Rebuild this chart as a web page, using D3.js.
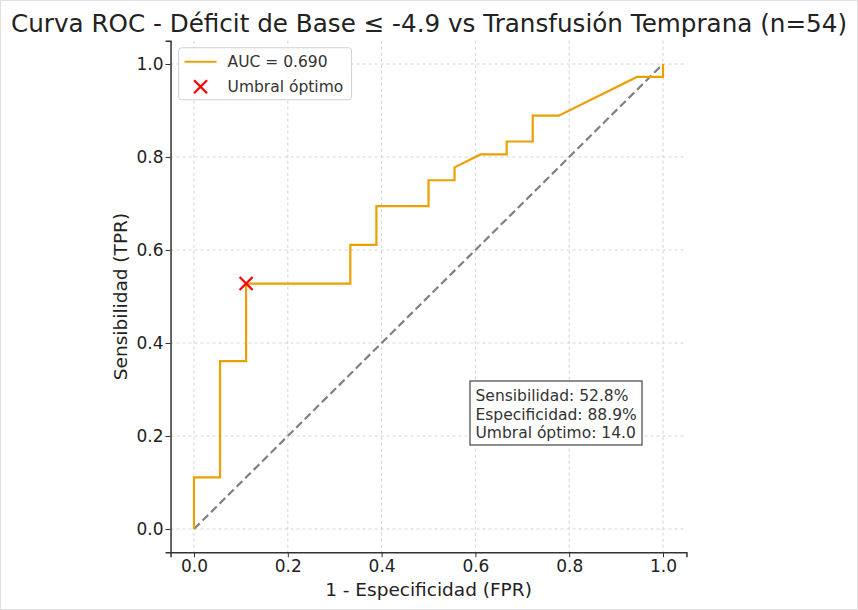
<!DOCTYPE html>
<html>
<head>
<meta charset="utf-8">
<script src="https://cdn.jsdelivr.net/npm/d3@7"></script>
<style>
  body { margin: 0; background: #fff; }
  svg { font-family: "DejaVu Sans", sans-serif; display: block; }
</style>
</head>
<body>
<div id="chart"></div>
<script>
// ROC points (18 negatives, 36 positives)
const fpr = [0, 0, 1/18, 1/18, 2/18, 2/18, 6/18, 6/18, 7/18, 7/18, 9/18, 9/18, 10/18, 10/18, 11/18, 12/18, 12/18, 13/18, 13/18, 14/18, 17/18, 1, 1];
const tpr = [0, 4/36, 4/36, 13/36, 13/36, 19/36, 19/36, 22/36, 22/36, 25/36, 25/36, 27/36, 27/36, 28/36, 29/36, 29/36, 30/36, 30/36, 32/36, 32/36, 35/36, 35/36, 1];
const optimal = { fpr: 2/18, tpr: 19/36 };
const ticks = [0, 0.2, 0.4, 0.6, 0.8, 1.0];
const statLines = ["Sensibilidad: 52.8%", "Especificidad: 88.9%", "Umbral óptimo: 14.0"];
const aucLabel = "AUC = 0.690";

const W = 858, H = 610;
const margin = { top: 40.75, right: 171.55, bottom: 57.75, left: 170.55 };
const width = W - margin.left - margin.right,
      height = H - margin.top - margin.bottom;

const svgRoot = d3.select("#chart").append("svg")
    .attr("width", W)
    .attr("height", H);

svgRoot.append("rect")
    .attr("x", 0.5).attr("y", 0.5)
    .attr("width", W - 1).attr("height", H - 1)
    .attr("fill", "#fff").attr("stroke", "#e0e0e0");

const svg = svgRoot.append("g")
    .attr("transform", `translate(${margin.left},${margin.top})`);

const x = d3.scaleLinear().domain([-0.05, 1.05]).range([0, width]);
const y = d3.scaleLinear().domain([-0.05, 1.05]).range([height, 0]);

// grid
svg.append("g").selectAll("line.gx")
    .data(ticks).enter().append("line")
    .attr("x1", d => x(d)).attr("x2", d => x(d))
    .attr("y1", 0).attr("y2", height)
    .attr("stroke", "#c8c8c8").attr("stroke-width", 0.8)
    .attr("stroke-dasharray", "3,3");
svg.append("g").selectAll("line.gy")
    .data(ticks).enter().append("line")
    .attr("y1", d => y(d)).attr("y2", d => y(d))
    .attr("x1", 0).attr("x2", width)
    .attr("stroke", "#c8c8c8").attr("stroke-width", 0.8)
    .attr("stroke-dasharray", "3,3");

// axes
const xAxis = svg.append("g")
    .attr("transform", `translate(0,${height})`)
    .call(d3.axisBottom(x).tickValues(ticks).tickFormat(d3.format(".1f")).tickSizeOuter(0).tickSize(5).tickPadding(3));
const yAxis = svg.append("g")
    .call(d3.axisLeft(y).tickValues(ticks).tickFormat(d3.format(".1f")).tickSizeOuter(0).tickSize(5).tickPadding(2));
[xAxis, yAxis].forEach(a => {
    a.select(".domain").attr("stroke", "#333").attr("stroke-width", 1.5);
    a.selectAll(".tick line").attr("stroke", "#333").attr("stroke-width", 1);
    a.selectAll(".tick text").attr("fill", "#222").style("font-size", "17px")
        .style("font-family", "DejaVu Sans, sans-serif");
});

// diagonal
svg.append("line")
    .attr("x1", x(0)).attr("y1", y(0))
    .attr("x2", x(1)).attr("y2", y(1))
    .attr("stroke", "#808080").attr("stroke-width", 2.2)
    .attr("stroke-dasharray", "8,4");

// ROC curve
const line = d3.line().x(d => x(d[0])).y(d => y(d[1]));
svg.append("path")
    .datum(fpr.map((f, i) => [f, tpr[i]]))
    .attr("d", line)
    .attr("fill", "none")
    .attr("stroke", "#eaa000")
    .attr("stroke-width", 2.2)
    .attr("stroke-linejoin", "miter");

// optimal marker
function xMark(g, cx, cy, r) {
    g.append("path")
        .attr("d", `M${cx - r},${cy - r}L${cx + r},${cy + r}M${cx - r},${cy + r}L${cx + r},${cy - r}`)
        .attr("stroke", "#ff0000").attr("stroke-width", 2.2).attr("fill", "none");
}
xMark(svg, x(optimal.fpr), y(optimal.tpr), 6.5);

// legend
const leg = svg.append("g").attr("transform", "translate(8,7)");
leg.append("rect")
    .attr("width", 173).attr("height", 52).attr("rx", 3)
    .attr("fill", "#fff").attr("fill-opacity", 0.85)
    .attr("stroke", "#d0d0d0");
leg.append("line")
    .attr("x1", 6).attr("x2", 38).attr("y1", 14).attr("y2", 14)
    .attr("stroke", "#eaa000").attr("stroke-width", 2.2);
xMark(leg, 22, 39, 6.5);
leg.append("text").attr("x", 49).attr("y", 19.5)
    .style("font-size", "15.5px").attr("fill", "#333").text(aucLabel);
leg.append("text").attr("x", 49).attr("y", 44)
    .style("font-size", "15.5px").attr("fill", "#333").text("Umbral óptimo");

// stats box
const box = svg.append("g").attr("transform", `translate(${470 - margin.left},${381 - margin.top})`);
box.append("rect")
    .attr("width", 172).attr("height", 64)
    .attr("fill", "#fff").attr("stroke", "#444").attr("stroke-width", 1.2);
box.selectAll("text").data(statLines).enter().append("text")
    .attr("x", 5.5).attr("y", (d, i) => 20 + i * 18.5)
    .style("font-size", "15.5px").attr("fill", "#333").text(d => d);

// labels
svgRoot.append("text")
    .attr("x", margin.left + x(0.5)).attr("y", 596)
    .attr("text-anchor", "middle")
    .style("font-size", "18.5px").attr("fill", "#222")
    .text("1 - Especificidad (FPR)");
svgRoot.append("text")
    .attr("transform", `translate(127,${margin.top + y(0.5)}) rotate(-90)`)
    .attr("text-anchor", "middle")
    .style("font-size", "18.5px").attr("fill", "#222")
    .text("Sensibilidad (TPR)");

svgRoot.append("text")
    .attr("x", 429).attr("y", 32)
    .attr("text-anchor", "middle")
    .attr("textLength", 836).attr("lengthAdjust", "spacingAndGlyphs")
    .style("font-size", "25px").attr("fill", "#222")
    .text("Curva ROC - Déficit de Base ≤ -4.9 vs Transfusión Temprana (n=54)");
</script>
</body>
</html>
